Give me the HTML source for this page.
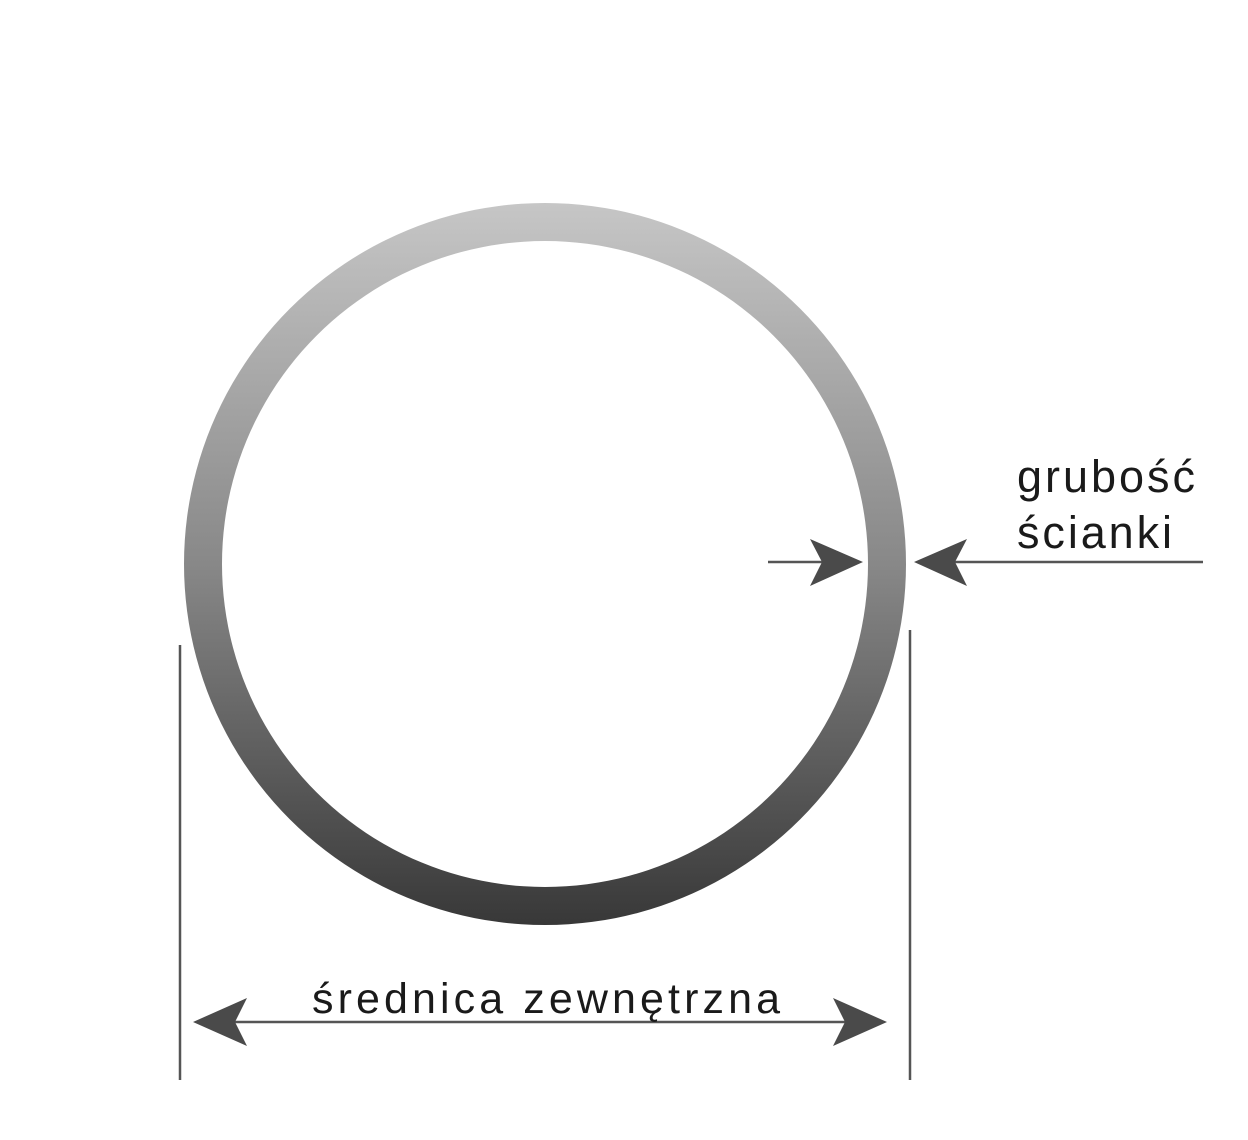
<!DOCTYPE html>
<html><head><meta charset="utf-8"><style>
html,body{margin:0;padding:0;background:#fff;}
svg{display:block}
text{font-family:"Liberation Sans",sans-serif;fill:#1a1a1a;}
</style></head><body>
<svg width="1248" height="1140" viewBox="0 0 1248 1140" xmlns="http://www.w3.org/2000/svg">
<defs>
<linearGradient id="g" x1="0" y1="0" x2="0" y2="1">
<stop offset="0" stop-color="#c6c6c6"/>
<stop offset="0.5" stop-color="#888"/>
<stop offset="1" stop-color="#383838"/>
</linearGradient>
</defs>
<path fill="url(#g)" fill-rule="evenodd" d="M545,203 a361,361 0 1,0 0.01,0 Z M545,241 a323,323 0 1,0 0.01,0 Z"/>
<g stroke="#555" stroke-width="2.5" fill="none">
<line x1="180" y1="645" x2="180" y2="1080"/>
<line x1="910" y1="630" x2="910" y2="1080"/>
<line x1="210" y1="1022" x2="870" y2="1022"/>
<line x1="768" y1="562" x2="850" y2="562"/>
<line x1="930" y1="562" x2="1203" y2="562"/>
</g>
<g fill="#4a4a4a">
<path d="M863,562 L810,539 L822,562 L810,586 Z"/>
<path d="M914,562 L967,539 L955,562 L967,586 Z"/>
<path d="M193,1022 L247,998 L235,1022 L247,1046 Z"/>
<path d="M887,1022 L833,998 L845,1022 L833,1046 Z"/>
</g>
<text x="1017" y="492" font-size="45" textLength="178" lengthAdjust="spacing">grubość</text>
<text x="1017" y="548" font-size="45" textLength="155" lengthAdjust="spacing">ścianki</text>
<text x="312" y="1013" font-size="43" textLength="468" lengthAdjust="spacing">średnica zewnętrzna</text>
</svg>
</body></html>
